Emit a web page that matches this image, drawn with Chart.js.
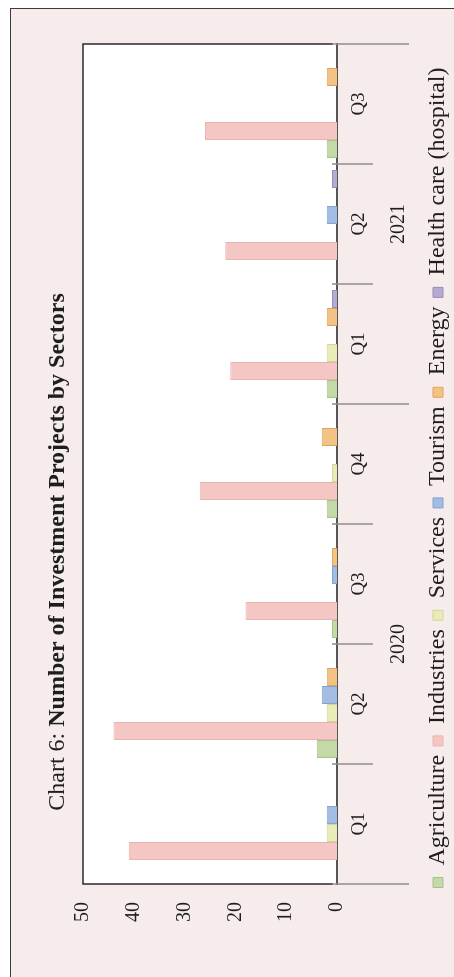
<!DOCTYPE html>
<html>
<head>
<meta charset="utf-8">
<script src="https://cdn.jsdelivr.net/npm/chart.js@4.4.0/dist/chart.umd.min.js"></script>
<style>
    html, body { margin: 0; padding: 0; width: 454px; height: 977px; overflow: hidden; background: #fff; }
    /* the chart is laid out landscape and turned a quarter to the left */
    #stage {
        position: absolute; left: 0; top: 0; width: 977px; height: 480px;
        transform-origin: 0 0; transform: translateY(977px) rotate(-90deg);
    }
    #frame {
        position: absolute; left: -6px; top: 10px; width: 975px; height: 480px;
        box-sizing: border-box; border: 1.5px solid #3a3a3a; background: #f6ecec;
    }
    #chart { position: absolute; left: 0; top: 0; }
</style>
</head>
<body>
<div id="stage">
    <div id="frame"></div>
    <canvas id="chart" width="977" height="480"></canvas>
</div>
<script>
(function () {
    'use strict';

    var TITLE_PREFIX = 'Chart 6: ';
    var TITLE_MAIN = 'Number of Investment Projects by Sectors';

    var quarters = ['Q1', 'Q2', 'Q3', 'Q4', 'Q1', 'Q2', 'Q3'];
    var years = ['2020', '2021'];
    var quartersPerYear = [4, 3];

    var agriculture = [0, 4, 1, 2, 2, 0, 2];
    var industries  = [41, 44, 18, 27, 21, 22, 26];
    var services    = [2, 2, 0, 1, 2, 0, 0];
    var tourism     = [2, 3, 1, 0, 0, 2, 0];
    var energy      = [0, 2, 1, 3, 2, 0, 2];
    var healthCare  = [0, 0, 0, 0, 1, 1, 0];

    var valueTicks = [0, 10, 20, 30, 40, 50];

    var SERIF = '"Liberation Serif", "Times New Roman", serif';
    var INK = '#1e1e1e';

    Chart.defaults.font.family = SERIF;
    Chart.defaults.color = INK;

    function series(label, data, fill, edge) {
        return {
            label: label,
            data: data,
            backgroundColor: fill,
            borderColor: edge,
            borderWidth: 1,
            categoryPercentage: 0.9,
            barPercentage: 1.0
        };
    }

    // white plot wall with its dark frame
    var plotWall = {
        id: 'plotWall',
        afterLayout: function (chart) {
            // legend row sits a little right of the canvas centre
            if (chart.legend) {
                chart.legend.left += 8;
                chart.legend.right += 8;
            }
        },
        beforeDraw: function (chart) {
            var a = chart.chartArea, ctx = chart.ctx;
            ctx.save();
            ctx.fillStyle = '#ffffff';
            ctx.fillRect(a.left, a.top, a.right - a.left, a.bottom - a.top);
            ctx.restore();
        },
        afterDraw: function (chart) {
            var a = chart.chartArea, ctx = chart.ctx;
            ctx.save();
            ctx.strokeStyle = '#2a2a2a';
            ctx.lineWidth = 1.5;
            ctx.beginPath();
            ctx.moveTo(a.left, a.bottom - 4);
            ctx.lineTo(a.left, a.top);
            ctx.lineTo(a.right, a.top);
            ctx.lineTo(a.right, a.bottom - 4);
            ctx.stroke();
            ctx.restore();
        }
    };

    // quarter separators and the year row under them
    var yearGroups = {
        id: 'yearGroups',
        afterDraw: function (chart) {
            var x = chart.scales.x, ctx = chart.ctx, a = chart.chartArea;
            var half = (x.getPixelForTick(1) - x.getPixelForTick(0)) / 2;
            var top = a.bottom - 5;
            ctx.save();
            ctx.strokeStyle = '#8c8c8c';
            ctx.lineWidth = 1.5;
            var start = 0;
            years.forEach(function (yr, g) {
                var end = start + quartersPerYear[g];
                for (var i = start; i <= end; i++) {
                    if (i === end && g < years.length - 1) { continue; }
                    var px = x.getPixelForTick(Math.min(i, quarters.length - 1)) + (i === quarters.length ? half : -half);
                    var longer = (i === start || i === end);
                    ctx.beginPath();
                    ctx.moveTo(px, top);
                    ctx.lineTo(px, a.bottom + (longer ? 72 : 36));
                    ctx.stroke();
                }
                var left = x.getPixelForTick(start) - half;
                var right = x.getPixelForTick(end - 1) + half;
                ctx.fillStyle = INK;
                ctx.font = '20px ' + SERIF;
                ctx.textAlign = 'center';
                ctx.textBaseline = 'alphabetic';
                ctx.fillText(yr, (left + right) / 2, a.bottom + 67);
                start = end;
            });
            ctx.restore();
        }
    };

    // title with a plain prefix and a bold body
    var mixedTitle = {
        id: 'mixedTitle',
        afterDraw: function (chart) {
            var ctx = chart.ctx;
            ctx.save();
            ctx.fillStyle = INK;
            ctx.textBaseline = 'alphabetic';
            ctx.textAlign = 'left';
            ctx.font = '24px ' + SERIF;
            var w1 = ctx.measureText(TITLE_PREFIX).width;
            ctx.font = 'bold 24px ' + SERIF;
            var w2 = ctx.measureText(TITLE_MAIN).width;
            var x0 = 425 - (w1 + w2) / 2;
            ctx.font = '24px ' + SERIF;
            ctx.fillText(TITLE_PREFIX, x0, 64);
            ctx.font = 'bold 24px ' + SERIF;
            ctx.fillText(TITLE_MAIN, x0 + w1, 64);
            ctx.restore();
        }
    };

    new Chart(document.getElementById('chart'), {
        type: 'bar',
        data: {
            labels: quarters,
            datasets: [
                series('Agriculture', agriculture, '#c3d9a8', '#a6c286'),
                series('Industries', industries, '#f4c7c4', '#ebb3af'),
                series('Services', services, '#e9ecb6', '#d3d796'),
                series('Tourism', tourism, '#a2bce3', '#84a2d2'),
                series('Energy', energy, '#f2c384', '#dfa55e'),
                series('Health care (hospital)', healthCare, '#b5abd0', '#988dbb')
            ]
        },
        plugins: [plotWall, yearGroups, mixedTitle],
        options: {
            responsive: false,
            animation: false,
            layout: { padding: { top: 83, left: 50, right: 44, bottom: 20 } },
            plugins: {
                title: { display: false },
                tooltip: { enabled: false },
                legend: {
                    position: 'bottom',
                    align: 'center',
                    labels: {
                        boxWidth: 10,
                        boxHeight: 10,
                        padding: 9,
                        color: INK,
                        font: { size: 24, family: SERIF }
                    }
                }
            },
            scales: {
                x: {
                    grid: { display: false, drawTicks: false },
                    border: { display: true, color: '#555555', width: 2 },
                    ticks: { padding: 11, font: { size: 19 }, color: INK, maxRotation: 0 },
                    afterFit: function (scale) { scale.height = 80; }
                },
                y: {
                    min: valueTicks[0],
                    max: valueTicks[valueTicks.length - 1],
                    grid: { display: false, drawTicks: false },
                    border: { display: false },
                    ticks: {
                        stepSize: valueTicks[1] - valueTicks[0],
                        padding: 18,
                        font: { size: 20 },
                        color: INK
                    },
                    afterFit: function (scale) { scale.width = 43; }
                }
            }
        }
    });
})();
</script>
</body>
</html>
